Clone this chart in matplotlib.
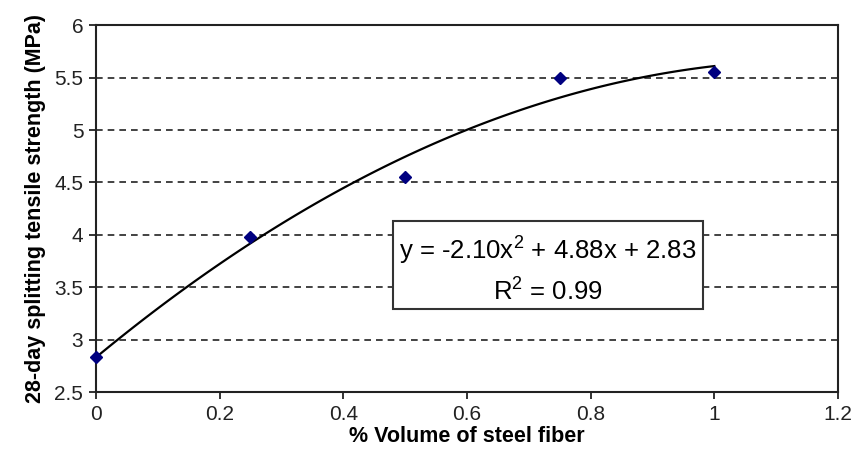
import matplotlib.pyplot as plt
import numpy as np

plt.rcParams['font.family'] = ['Liberation Sans', 'DejaVu Sans']
plt.rcParams['mathtext.fontset'] = 'custom'
plt.rcParams['mathtext.rm'] = 'Liberation Sans'

# measured points
vol = [0, 0.25, 0.5, 0.75, 1.0]
strength = [2.83, 3.98, 4.55, 5.50, 5.55]

# trendline coefficients (from the chart label)
coef = [-2.10, 4.88, 2.83]

fig = plt.figure(figsize=(8.56, 4.58), dpi=100)
ax = fig.add_axes([0.112, 0.144, 0.867, 0.801])

xs = np.linspace(0, 1, 100)
ax.plot(xs, np.polyval(coef, xs), color='black', linewidth=1.6, zorder=3)
ax.plot(vol, strength, linestyle='none', marker='D', markersize=6.5,
        color='#000080', zorder=4, clip_on=False)

ax.set_xlim(0, 1.2)
ax.set_ylim(2.5, 6)
ax.set_xticks([0, 0.2, 0.4, 0.6, 0.8, 1, 1.2])
ax.set_xticklabels(['0', '0.2', '0.4', '0.6', '0.8', '1', '1.2'])
ax.set_yticks([2.5, 3, 3.5, 4, 4.5, 5, 5.5, 6])
ax.set_yticklabels(['2.5', '3', '3.5', '4', '4.5', '5', '5.5', '6'])
ax.tick_params(direction='out', length=5, width=1.3, labelsize=15, colors='#222222', pad=4)

for y in [3, 3.5, 4, 4.5, 5, 5.5]:
    ax.axhline(y, color='#222222', linestyle=(0, (4, 3)), linewidth=1.2, zorder=1)

for s in ax.spines.values():
    s.set_linewidth(1.5)
    s.set_color('#222222')

ax.set_xlabel('% Volume of steel fiber', fontsize=15.5, fontweight='bold', labelpad=2)
ax.set_ylabel('28-day splitting tensile strength (MPa)', fontsize=15.5, fontweight='bold', labelpad=6)

rect = plt.Rectangle((0.48, 3.29), 0.502, 0.84, facecolor='white', edgecolor='#333333',
                     linewidth=1.5, zorder=5)
ax.add_patch(rect)
ax.text(0.731, 3.86, r'y = -2.10x$^2$ + 4.88x + 2.83', ha='center', va='center',
        fontsize=18.5, zorder=6)
ax.text(0.731, 3.47, r'R$^2$ = 0.99', ha='center', va='center', fontsize=18.5, zorder=6)

fig.savefig('out.png', dpi=100)
